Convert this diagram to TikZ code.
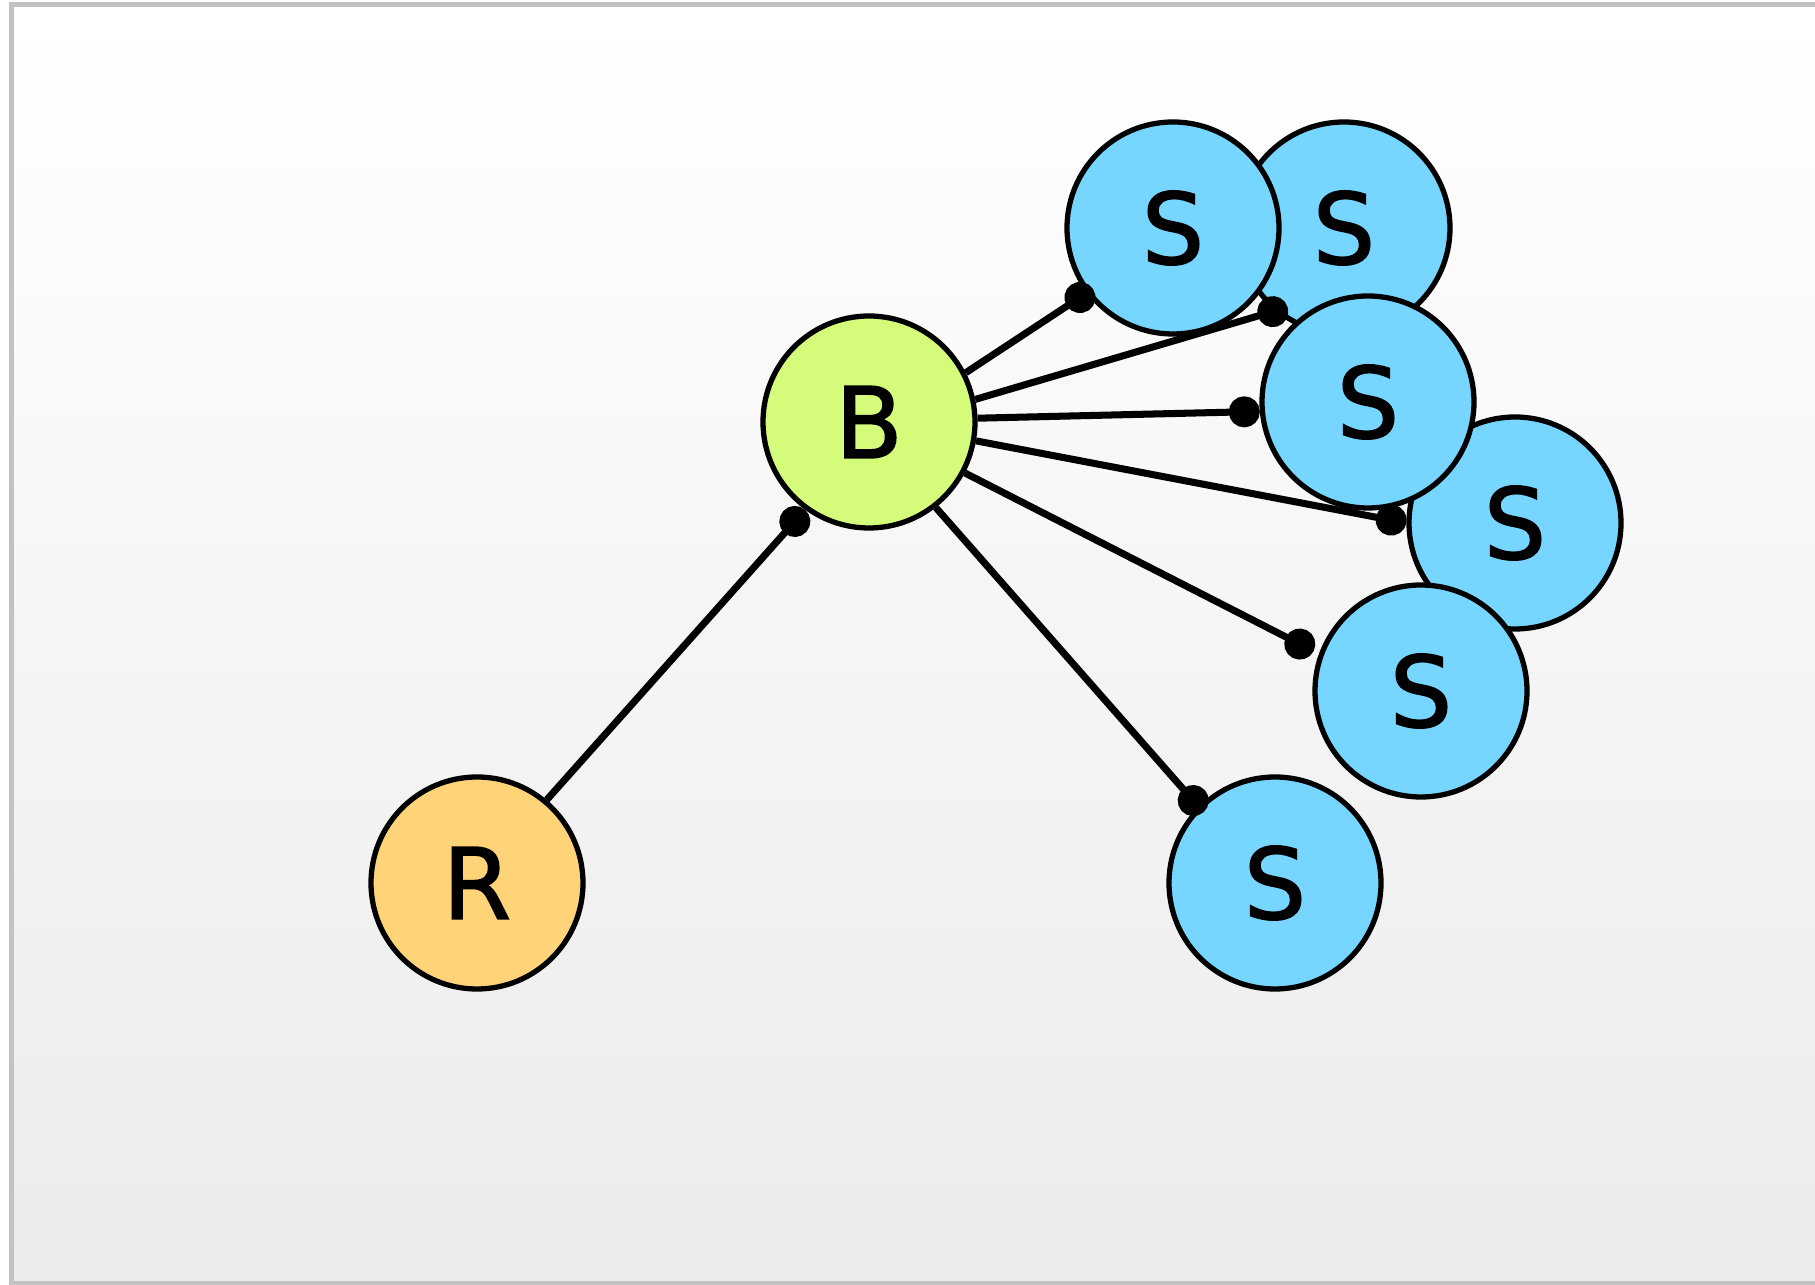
\documentclass[tikz,border=0pt]{standalone}
\usepackage{fontspec}
\setmainfont{DejaVu Sans}[FakeBold=1.6]
\usepackage{xcolor}
\usepackage{tikz}
\usetikzlibrary{arrows.meta}

\definecolor{sky}{RGB}{118,214,255}
\definecolor{honeydew}{RGB}{212,251,121}
\definecolor{cantaloupe}{RGB}{255,212,121}
\definecolor{framegray}{RGB}{194,194,194}
\definecolor{bggray}{RGB}{235,235,235}

\tikzset{
  ball/.style={circle,draw,line width=1.5pt,minimum size=2.12cm,inner sep=0pt,font=\fontsize{28}{30}\selectfont},
  rnode/.style={ball,fill=cantaloupe},
  bnode/.style={ball,fill=honeydew},
  snode/.style={ball,fill=sky},
  link/.style={line width=2pt,-{Circle[length=3.1mm]}}
}

\begin{document}
\begin{tikzpicture}
            \useasboundingbox (0,0) rectangle (18.15,12.84);
            % Background
            \fill[top color=white,bottom color=bggray] (0.14,0) rectangle (18.15,12.77);
            \draw[framegray,line width=0.5mm] (18.15,12.79) -- (0.115,12.79) -- (0.115,0.01) -- (18.15,0.01);

            % Nodes
            \node[snode] (S2) at (13.44,10.56) {S};
            \node[snode] (S4) at (15.15,7.61) {S};
            \node[snode] (S1) at (11.73,10.56) {S};
            \node[snode] (S3) at (13.68,8.82) {S};
            \node[snode] (S5) at (14.21,5.93) {S};
            \node[snode] (S6) at (12.75,4.01) {S};
            \node[bnode] (B) at (8.69,8.62) {B};
            \node[rnode] (R) at (4.77,4.01) {R};

            % Edges
            \draw[link] (R.50) -- (B.234);
            \draw[link,shorten >=-0.8mm] (B.27) -- (S1.217);
            \draw[link,shorten >=-1.4mm] (B.12) -- (S2.230);
            \draw[link] (B.2) -- (S3.185);
            \draw[link] (B.-10) -- (S4.180);
            \draw[link,shorten >=0.6mm] (B.-28) -- (S5.160);
            \draw[link,shorten >=-0.8mm] (B.-52) -- (S6.135);
        \end{tikzpicture}
\end{document}
